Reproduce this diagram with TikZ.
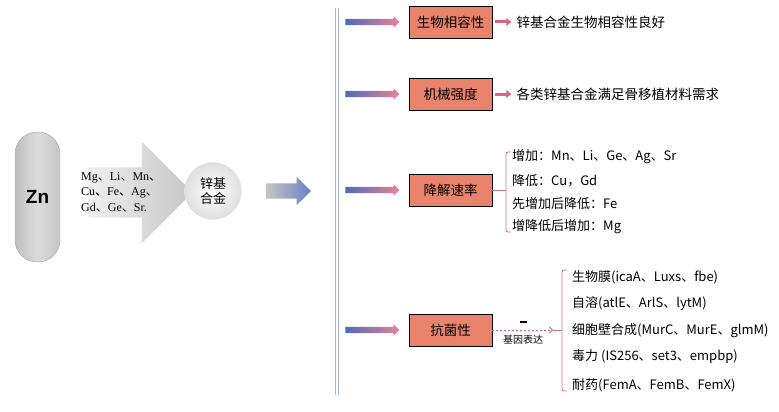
\documentclass[tikz,border=0pt]{standalone}
\usepackage{fontspec}
\setmainfont{Noto Sans CJK SC}
\newfontfamily\tmsfont{Liberation Serif}
\newfontfamily\arlfont{Liberation Sans}
\newfontfamily\cjkfont{Noto Sans CJK SC}
\usepackage{xcolor}
\usepackage{tikz}
\usetikzlibrary{arrows.meta,positioning,shapes.arrows,calc}

\definecolor{boxfill}{HTML}{E9836C}
\definecolor{pinkline}{HTML}{D6667E}
\definecolor{bracecol}{HTML}{C9738A}
\definecolor{bluearr}{HTML}{4E6DB8}
\definecolor{pinkarr}{HTML}{E88393}
\definecolor{vline}{HTML}{9FB8E2}
\newcommand{\dun}{{\cjkfont 、}}

\begin{document}
\begin{tikzpicture}[
  x=1pt, y=-1pt,
  propbox/.style={rectangle, draw=black, line width=0.7pt, fill=boxfill, minimum width=83pt, minimum height=32pt, inner sep=0pt, font=\fontsize{13.5}{16}\selectfont},
  feedarr/.style={single arrow, minimum height=54pt, inner xsep=0pt, inner ysep=3pt, single arrow head extend=2.5pt, left color=bluearr, right color=pinkarr, draw=none},
  restxt/.style={anchor=west, inner sep=0pt, font=\fontsize{13.5}{16}\selectfont},
  itemtxt/.style={anchor=west, inner sep=0pt, font=\fontsize{13}{16}\selectfont},
  parr/.style={-{Triangle[length=5pt, width=8pt]}, line width=3pt, draw=pinkline},
  darr/.style={-{Straight Barb[length=3pt, width=6pt]}, line width=0.8pt, draw=pinkline, dash pattern=on 2pt off 2pt},
  brace/.style={draw=bracecol, line width=0.9pt, rounded corners=2pt}
]
\useasboundingbox (0,0) rectangle (779,412);

% Zn and alloying elements
\node[rectangle, rounded corners=22pt, minimum width=45pt, minimum height=130pt, draw=gray!70, left color=gray!50, right color=gray!45, middle color=gray!28, font=\arlfont\bfseries\fontsize{19}{20}\selectfont] (zn) at (37.5,197) {Zn};
\node[single arrow, minimum height=104pt, inner xsep=0pt, inner ysep=25pt, single arrow head extend=25.5pt, left color=gray!12, right color=gray!45, draw=none] (addarr) at (128,192.5) {};
\node[anchor=west, inner sep=0pt, align=left, font=\tmsfont\fontsize{12}{15.5}\selectfont] (elems) at (81,192) {Mg\dun Li\dun Mn\dun\\Cu\dun Fe\dun Ag\dun\\Gd\dun Ge\dun Sr.};
\node[circle, minimum size=57pt, inner sep=0pt, inner color=white, outer color=gray!25, draw=gray!20, align=center, font=\fontsize{13}{15}\selectfont] (alloy) at (213,191) {锌基\\合金};

% To properties
\node[single arrow, minimum height=45pt, inner xsep=0pt, inner ysep=7.5pt, single arrow head extend=6.5pt, left color=gray!45, right color=bluearr!85, draw=none] (toprop) at (284.5,191) {};
\coordinate (vtop) at (335,8);
\coordinate (vbot) at (335,395);
\draw[vline, line width=1pt] (vtop) -- (vbot);
\draw[vline, line width=1pt] ([xshift=3.5pt]vtop) -- ([xshift=3.5pt]vbot);

% Properties
\node[propbox] (bio) at (450.5,22) {生物相容性};
\node[propbox] (mech) at (450.5,94) {机械强度};
\node[propbox] (degr) at (450.5,190) {降解速率};
\node[propbox] (anti) at (450.5,330) {抗菌性};

\node[feedarr, left=9pt of bio] (bioin) {};
\node[feedarr, left=9pt of mech] (mechin) {};
\node[feedarr, left=9pt of degr] (degrin) {};
\node[feedarr, left=9pt of anti] (antiin) {};

% Results
\node[restxt, right=24pt of bio] (biotxt) {锌基合金生物相容性良好};
\node[restxt, right=24pt of mech] (mechtxt) {各类锌基合金满足骨移植材料需求};
\draw[parr, shorten <=3pt, shorten >=5pt] (bio) -- (biotxt);
\draw[parr, shorten <=3pt, shorten >=5pt] (mech) -- (mechtxt);

% Degradation rate
\coordinate (dmid) at (506,190);
\coordinate (dtop) at (511,152);
\coordinate (dbot) at (511,232);
\draw[brace] (degr) -- (dmid);
\draw[brace] (dtop) -- ++(-5,0) |- (dbot);
\node[itemtxt] (d1) at (512,157) {增加：Mn、Li、Ge、Ag、Sr};
\node[itemtxt] (d2) at (512,181) {降低：Cu，Gd};
\node[itemtxt] (d3) at (512,204) {先增加后降低：Fe};
\node[itemtxt] (d4) at (512,227) {增降低后增加：Mg};

% Antibacterial
\coordinate (abr) at (553,330);
\coordinate (amid) at (562,330);
\coordinate (atop) at (567,270);
\coordinate (abot) at (567,391);
\draw[darr] (anti) -- (abr);
\draw[brace] (abr) -- (amid);
\draw[brace] (atop) -- ++(-5,0) |- (abot);
\node[inner sep=0pt] (minus) at (523,322) {\rule{7pt}{2.4pt}};
\node[font=\fontsize{10}{12}\selectfont, inner sep=0pt] (gene) at (523,340) {基因表达};
\node[itemtxt] (a1) at (572,277) {生物膜(icaA、Luxs、fbe)};
\node[itemtxt] (a2) at (572,304) {自溶(atlE、ArlS、lytM)};
\node[itemtxt] (a3) at (572,331) {细胞壁合成(MurC、MurE、glmM)};
\node[itemtxt] (a4) at (572,357) {毒力 (IS256、set3、empbp)};
\node[itemtxt] (a5) at (572,385) {耐药(FemA、FemB、FemX)};

\end{tikzpicture}
\end{document}
